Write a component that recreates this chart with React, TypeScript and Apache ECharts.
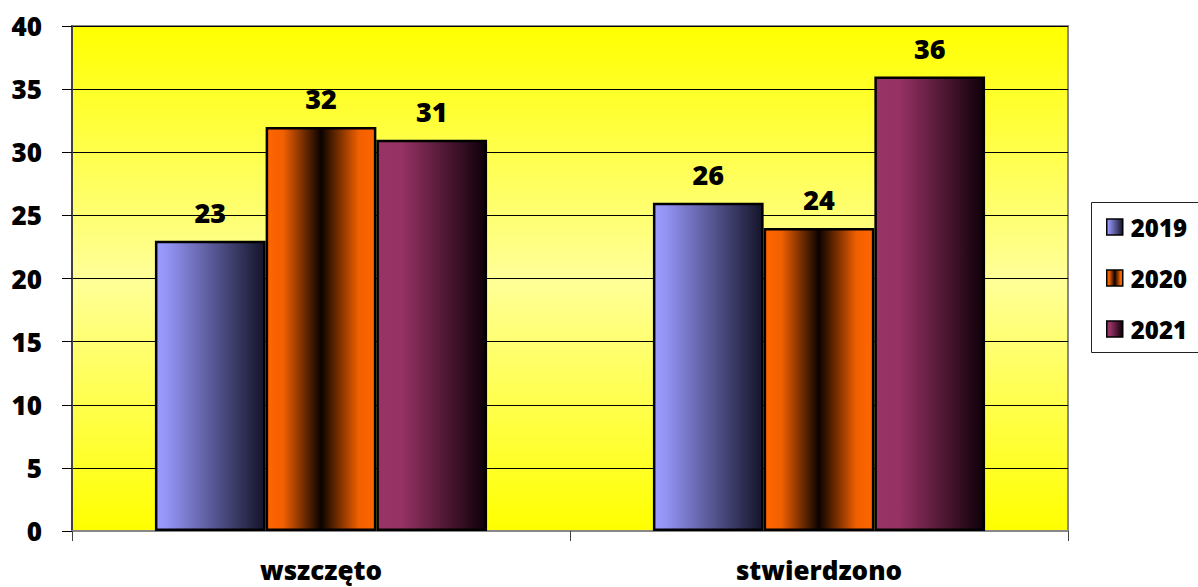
import React, { useEffect, useRef } from "react";
import * as echarts from "echarts";

const categories = ["wszczęto", "stwierdzono"];
const seriesNames = ["2019", "2020", "2021"];
const values2019 = [23, 26];
const values2020 = [32, 24];
const values2021 = [31, 36];
const yTicks = { min: 0, max: 40, interval: 5 };

const FONT = "'Open Sans', 'DejaVu Sans', sans-serif";
const WEIGHT = 800;

const grad = (stops: [number, string][]) =>
  new echarts.graphic.LinearGradient(
    0,
    0,
    1,
    0,
    stops.map(([offset, color]) => ({ offset, color }))
  );

const fills = [
  grad([
    [0, "#9c9cff"],
    [0.1, "#9494f5"],
    [1, "#14142a"],
  ]),
  grad([
    [0, "#ff6600"],
    [0.15, "#f26000"],
    [0.5, "#0a0200"],
    [0.85, "#f26000"],
    [1, "#ff6600"],
  ]),
  grad([
    [0, "#993366"],
    [0.22, "#963264"],
    [1, "#0e0008"],
  ]),
];

export default function App() {
  const ref = useRef<HTMLDivElement>(null);
  useEffect(() => {
    if (!ref.current) return;
    const chart = echarts.init(ref.current, undefined, { renderer: "svg" });
    const data = [values2019, values2020, values2021];
    chart.setOption({
      animation: false,
      backgroundColor: "#ffffff",
      textStyle: { fontFamily: FONT },
      grid: {
        left: 72,
        right: 130,
        top: 26,
        bottom: 56,
        show: true,
        borderColor: "#888888",
        borderWidth: 2,
        backgroundColor: new echarts.graphic.LinearGradient(0, 0, 0, 1, [
          { offset: 0, color: "#ffff00" },
          { offset: 0.5, color: "#ffff99" },
          { offset: 1, color: "#ffff00" },
        ]),
      },
      graphic: [
        {
          type: "rect",
          left: 1091,
          top: 202,
          shape: { width: 160, height: 150 },
          style: { fill: "#ffffff", stroke: "#222222", lineWidth: 1 },
          z: -1,
        },
      ],
      legend: {
        orient: "vertical",
        left: 1091,
        top: 202,
        padding: [11, 10, 10, 15],
        itemWidth: 16,
        itemHeight: 16,
        itemGap: 23,
        icon: "rect",
        itemStyle: { borderColor: "#000", borderWidth: 1.5 },
        textStyle: {
          fontFamily: FONT,
          fontWeight: WEIGHT,
          fontSize: 24,
          lineHeight: 28,
          color: "#000",
          padding: [0, 0, 0, 3],
        },
        data: seriesNames,
      },
      xAxis: {
        type: "category",
        data: categories,
        axisLine: { lineStyle: { color: "#888888", width: 2 } },
        axisTick: { show: true, length: 10, lineStyle: { color: "#444444", width: 1 } },
        axisLabel: {
          margin: 26,
          fontFamily: FONT,
          fontWeight: WEIGHT,
          fontSize: 26,
          color: "#000",
        },
      },
      yAxis: {
        type: "value",
        min: yTicks.min,
        max: yTicks.max,
        interval: yTicks.interval,
        axisLine: { show: true, lineStyle: { color: "#404040", width: 2 } },
        axisTick: { show: true, length: 10, lineStyle: { color: "#000", width: 1 } },
        splitLine: { show: true, lineStyle: { color: "#000", width: 1 } },
        axisLabel: {
          margin: 30,
          fontFamily: FONT,
          fontWeight: WEIGHT,
          fontSize: 26,
          color: "#000",
        },
      },
      series: seriesNames.map((name, i) => ({
        name,
        type: "bar",
        data: data[i],
        barGap: "0%",
        barCategoryGap: "33.3%",
        itemStyle: { color: fills[i], borderColor: "#000", borderWidth: 2.5 },
        label: {
          show: true,
          position: "top",
          distance: 15,
          fontFamily: FONT,
          fontWeight: WEIGHT,
          fontSize: 27,
          color: "#000",
        },
      })),
    });
    return () => chart.dispose();
  }, []);
  return (
    <div
      ref={ref}
      style={{ position: "fixed", left: 0, top: 0, width: 1198, height: 587 }}
    />
  );
}
